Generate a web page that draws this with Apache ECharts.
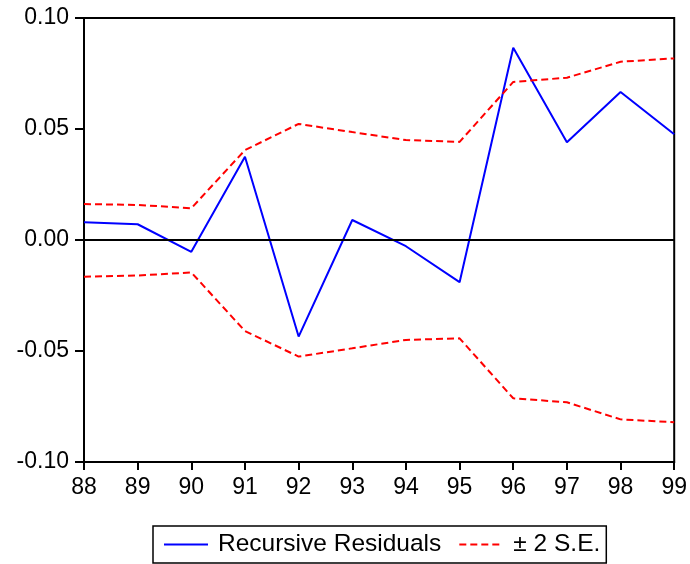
<!DOCTYPE html>
<html>
<head>
<meta charset="utf-8">
<script src="https://cdn.jsdelivr.net/npm/echarts@6/dist/echarts.min.js"></script>
<style>
  html, body { margin: 0; padding: 0; background: #fff; }
  #chart { width: 690px; height: 564px; }
</style>
</head>
<body>
<div id="chart"></div>
<script>
// Recursive residuals with ±2 standard error bands, 1988–1999
const years = [88, 89, 90, 91, 92, 93, 94, 95, 96, 97, 98, 99];
const residuals = [0.0080, 0.0071, -0.0053, 0.0375, -0.0435, 0.0090, -0.0028, -0.0190, 0.0866, 0.0440, 0.0667, 0.0476];
const upperBand = [0.0162, 0.0158, 0.0143, 0.0405, 0.0523, 0.0486, 0.0450, 0.0442, 0.0712, 0.0731, 0.0803, 0.0818];
const lowerBand = [-0.0165, -0.0160, -0.0146, -0.0410, -0.0525, -0.0488, -0.0450, -0.0443, -0.0713, -0.0731, -0.0808, -0.0821];
const yTicks = [-0.10, -0.05, 0.00, 0.05, 0.10];

const pairs = vals => years.map((y, i) => [y, vals[i]]);
const FONT = "'Liberation Sans', Arial, sans-serif";

const chart = echarts.init(document.getElementById('chart'));
chart.setOption({
  animation: false,
  backgroundColor: '#fff',
  grid: {
    left: 84, right: 14, top: 18, bottom: 102,
    show: true, borderColor: '#000', borderWidth: 2, backgroundColor: 'transparent'
  },
  xAxis: {
    type: 'value', min: years[0], max: years[years.length - 1], interval: 1,
    axisLine: { onZero: false, lineStyle: { color: '#000', width: 2 } },
    axisTick: { show: true, length: 8, lineStyle: { color: '#000', width: 2 } },
    axisLabel: { color: '#000', fontSize: 23, fontFamily: FONT, margin: 14 },
    splitLine: { show: false }
  },
  yAxis: {
    type: 'value', min: yTicks[0], max: yTicks[yTicks.length - 1], interval: 0.05,
    axisLine: { show: true, onZero: false, lineStyle: { color: '#000', width: 2 } },
    axisTick: { show: true, length: 9, lineStyle: { color: '#000', width: 2 } },
    axisLabel: { color: '#000', fontSize: 23, fontFamily: FONT, margin: 15,
      formatter: v => v.toFixed(2) },
    splitLine: { show: false }
  },
  legend: {
    left: 153, top: 526,
    data: ['Recursive Residuals', '± 2 S.E.'],
    borderColor: '#000', borderWidth: 1.5,
    padding: [6, 6, 6, 10],
    itemWidth: 44, itemHeight: 25, itemGap: 17,
    itemStyle: { color: 'transparent', borderColor: 'transparent', borderWidth: 0 },
    textStyle: { color: '#000', fontSize: 24.5, fontFamily: FONT, lineHeight: 25, padding: [0, 0, 0, 5] }
  },
  series: [
    {
      name: 'Recursive Residuals', type: 'line', data: pairs(residuals),
      symbol: 'none', lineStyle: { color: '#0000ff', width: 2 }, itemStyle: { color: '#0000ff' },
      z: 3,
      markLine: {
        silent: true, symbol: 'none', label: { show: false },
        lineStyle: { color: '#000', width: 2, type: 'solid' },
        data: [{ yAxis: 0 }]
      }
    },
    {
      name: '± 2 S.E.', type: 'line', data: pairs(upperBand),
      symbol: 'none', lineStyle: { color: '#ff0000', width: 2, type: [7, 4] }, itemStyle: { color: '#ff0000' }
    },
    {
      name: '± 2 S.E.', type: 'line', data: pairs(lowerBand),
      symbol: 'none', lineStyle: { color: '#ff0000', width: 2, type: [7, 4] }, itemStyle: { color: '#ff0000' }
    }
  ]
});
</script>
</body>
</html>
